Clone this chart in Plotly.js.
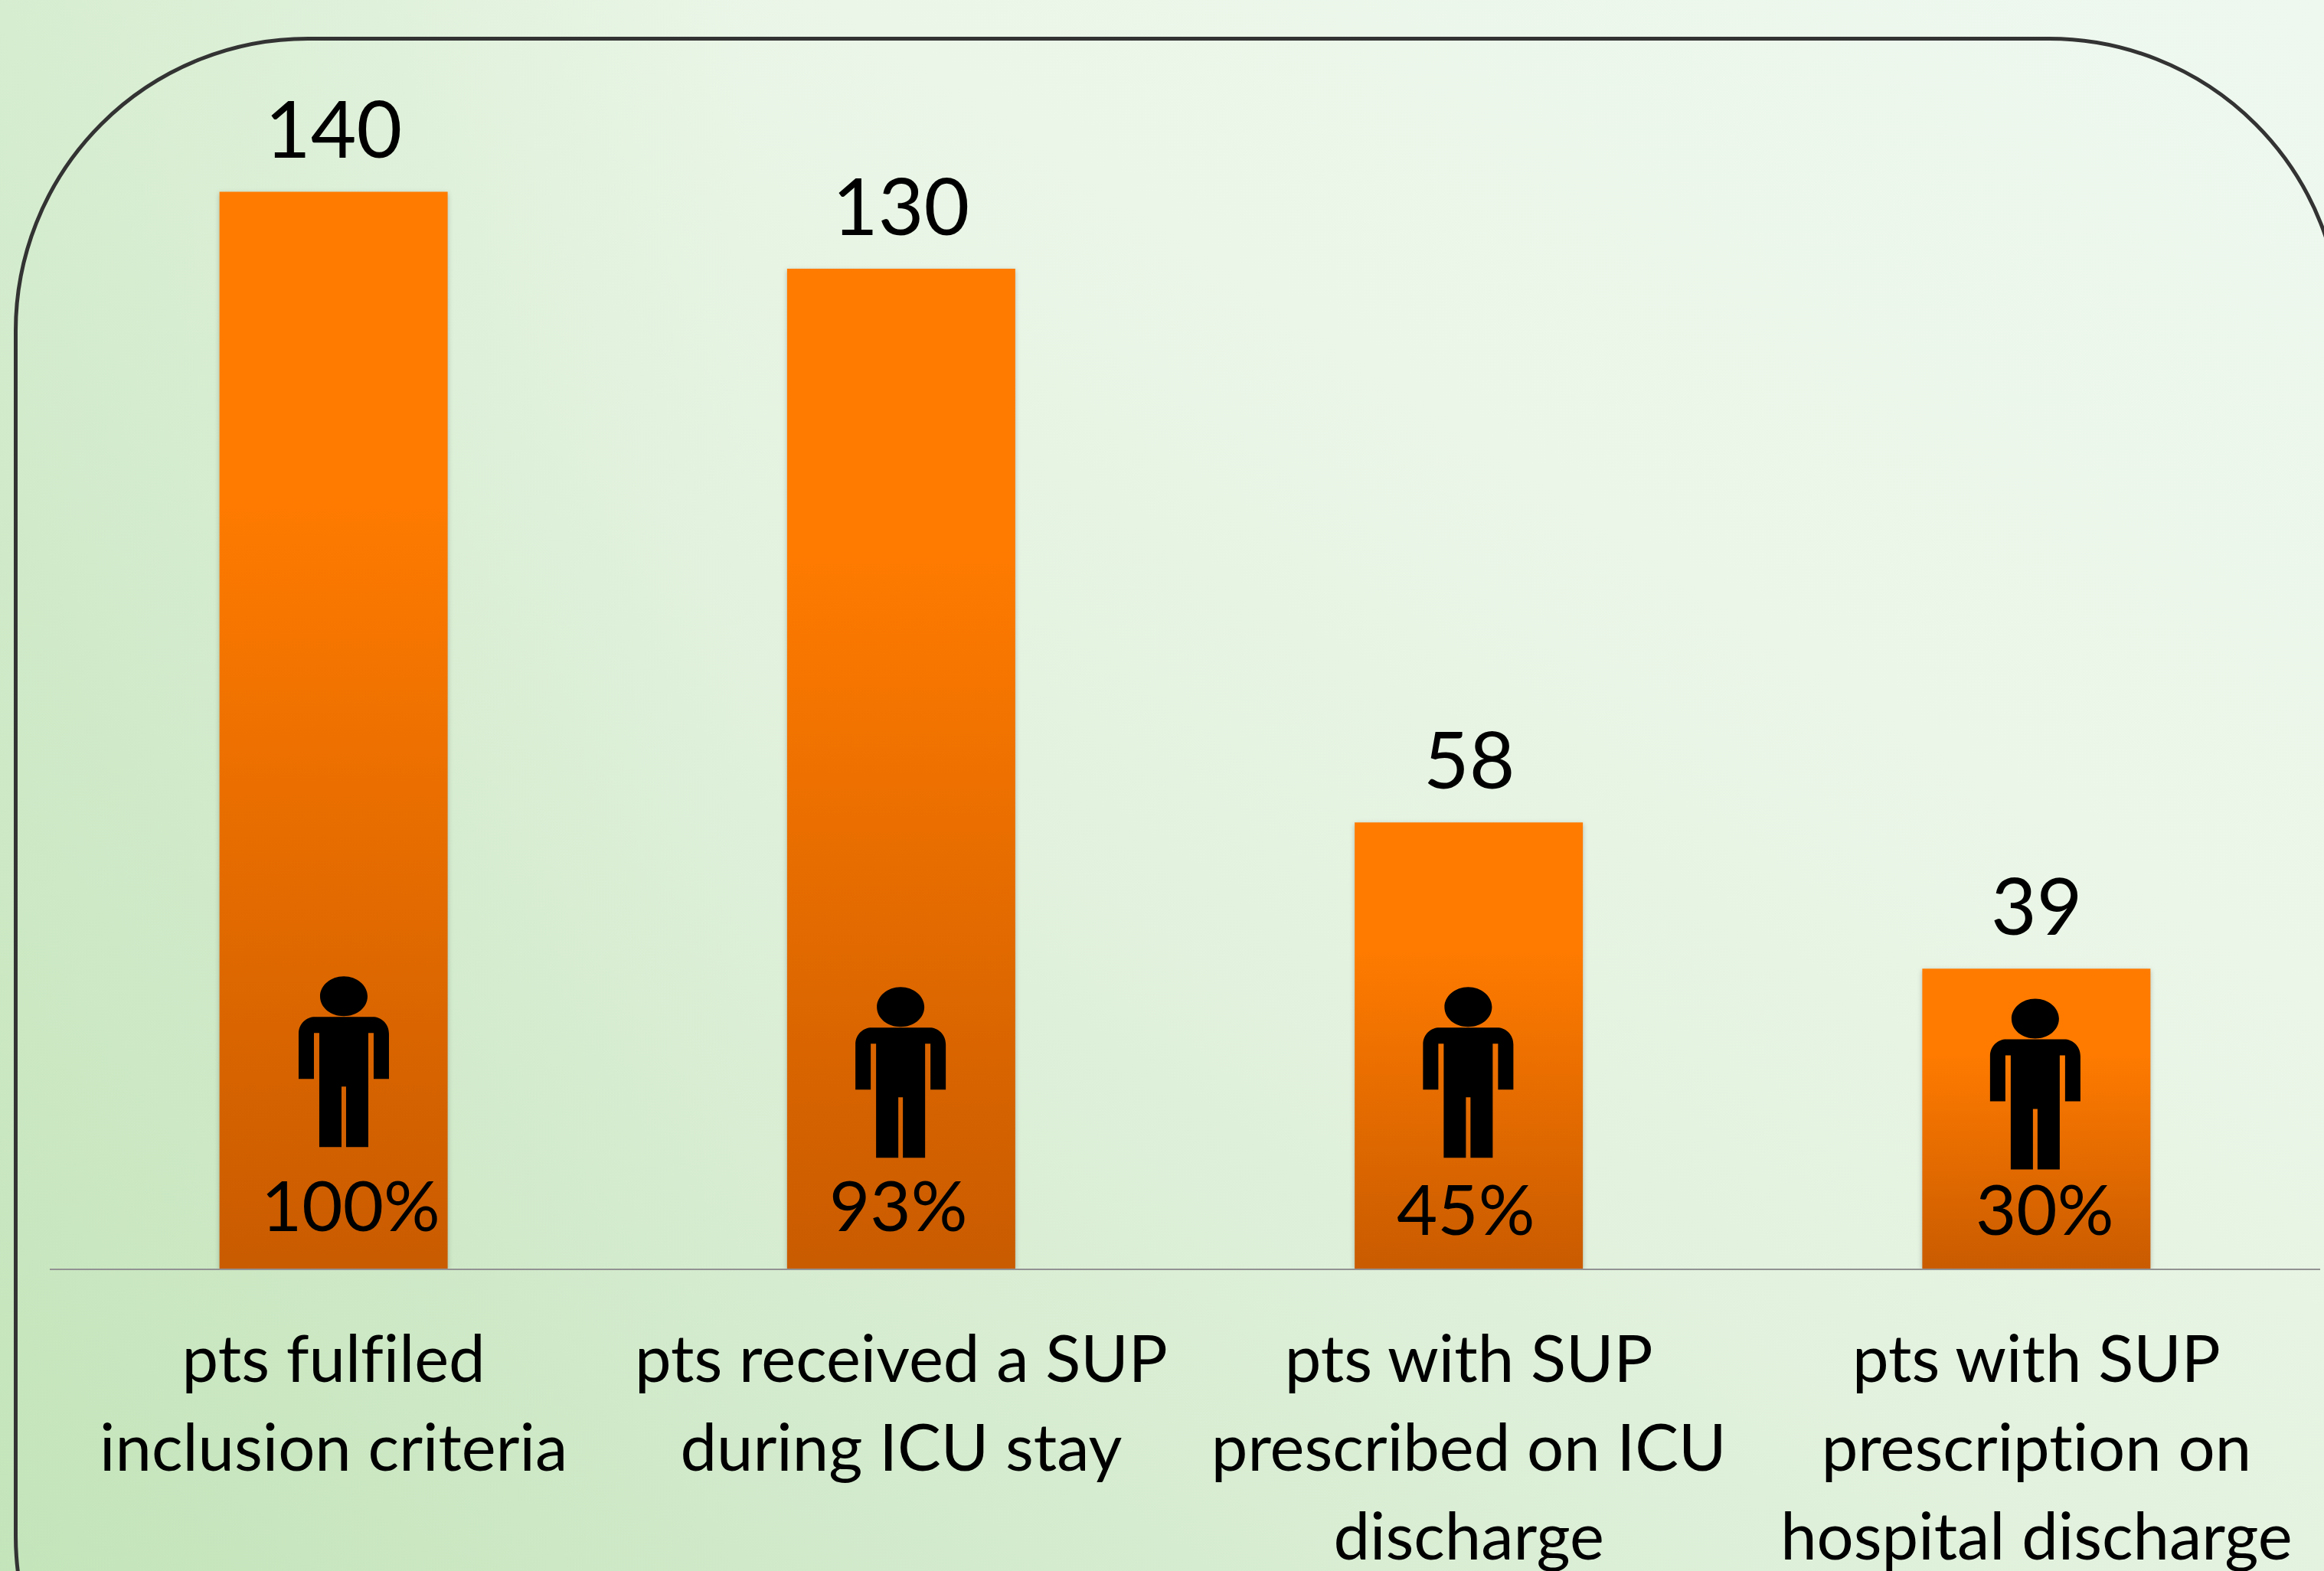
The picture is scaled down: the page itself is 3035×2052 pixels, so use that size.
<!DOCTYPE html>
<html>
<head>
<meta charset="utf-8">
<script src="https://cdn.plot.ly/plotly-3.0.1.min.js"></script>
<style>
html,body{margin:0;padding:0;width:3035px;height:2052px;overflow:hidden;}
body{position:relative;background:
  linear-gradient(to right,rgba(192,228,182,0.38) 0%,rgba(192,228,182,0) 32%),
  linear-gradient(to top right,#c6e5bd 0%,#d6ecd0 26%,#e3f2df 48%,#ebf6e8 68%,#eef8ef 100%);}
#frame{position:absolute;left:18px;top:48px;width:3042px;height:2342px;border:5px solid #333;border-radius:384px;box-sizing:border-box;}
#chart{position:absolute;left:0;top:0;width:3035px;height:2052px;}
.main-svg text{font-variant-ligatures:none;font-feature-settings:"liga" 0;}
</style>
</head>
<body>
<div id="frame"></div>
<div id="chart"></div>
<script>
const categories = [
  "pts fulfiled<br>inclusion criteria",
  "pts received a SUP<br>during ICU stay",
  "pts with SUP<br>prescribed on ICU<br>discharge",
  "pts with SUP<br>prescription on<br>hospital discharge"
];
const patients = [140, 130, 58, 39];
const percentLabels = ["100%", "93%", "45%", "30%"];

// Placement of the overlays, in axis units
const percentX = [0.03, -0.005, -0.005, 0.015];
const percentY = [8.4, 8.4, 7.9, 7.9];
const personX = [0.018, -0.001, -0.001, -0.002];
const personY = [15.8, 14.4, 14.4, 12.9];

const FONT = "Lato, 'Open Sans', sans-serif";
const personPath =
  "M-32 0L-3 0L-3 79L3 79L3 0L32 0L32 149L39 149L39 89L59 89L59 148" +
  "C59 162 48 170 38 170L-38 170C-48 170 -59 162 -59 148L-59 89L-39 89L-39 149L-32 149Z" +
  "M-31 197C-31 211 -17 223 0 223C17 223 31 211 31 197C31 182 17 171 0 171C-17 171 -31 182 -31 197Z";

const valueLabels = patients.map((v, i) => ({
  x: i, y: v, xref: "x", yref: "y", text: String(v), showarrow: false,
  yanchor: "bottom", yshift: 20, font: {family: FONT, size: 103, color: "#000"}
}));
const pctLabels = percentLabels.map((t, i) => ({
  x: i + percentX[i], y: percentY[i], xref: "x", yref: "y", text: t, showarrow: false,
  yanchor: "middle", font: {family: FONT, size: 92, color: "#000"}
}));
const people = personX.map((dx, i) => ({
  type: "path", xref: "x", yref: "y", xsizemode: "pixel", ysizemode: "pixel",
  xanchor: i + dx, yanchor: personY[i], path: personPath,
  fillcolor: "#000", line: {width: 0}, layer: "above"
}));

const trace = {
  type: "bar", x: categories, y: patients, width: 0.402,
  marker: {color: "#e06800", line: {width: 0}}, hoverinfo: "skip", cliponaxis: false
};

const layout = {
  width: 3035, height: 2052, autosize: false, showlegend: false,
  paper_bgcolor: "rgba(0,0,0,0)", plot_bgcolor: "rgba(0,0,0,0)",
  margin: {l: 65, r: 5, t: 149.5, b: 395, pad: 0},
  font: {family: FONT, color: "#000"},
  xaxis: {
    type: "category", range: [-0.5, 3.5], tickangle: 0, showgrid: false, zeroline: false,
    showline: true, linecolor: "#929292", linewidth: 2,
    ticks: "outside", ticklen: 44, tickcolor: "rgba(0,0,0,0)",
    tickfont: {family: FONT, size: 85, color: "#000"}, automargin: false
  },
  yaxis: {range: [0, 150], visible: false, fixedrange: true},
  annotations: valueLabels.concat(pctLabels),
  shapes: people
};

Plotly.newPlot("chart", [trace], layout, {displayModeBar: false, staticPlot: true}).then(gd => {
  const svg = gd.querySelector(".main-svg");
  const ns = "http://www.w3.org/2000/svg";
  let defs = svg.querySelector("defs");
  const g = document.createElementNS(ns, "linearGradient");
  g.setAttribute("id", "barFade");
  g.setAttribute("x1", "0"); g.setAttribute("y1", "0");
  g.setAttribute("x2", "0"); g.setAttribute("y2", "1");
  [["0", "#ff7b00"], ["0.28", "#ff7b00"], ["1", "#c95b00"]].forEach(([o, c]) => {
    const s = document.createElementNS(ns, "stop");
    s.setAttribute("offset", o); s.setAttribute("stop-color", c); g.appendChild(s);
  });
  defs.appendChild(g);
  gd.querySelectorAll(".bars .point path").forEach(p => {
    p.style.fill = "url(#barFade)";
    p.style.filter = "drop-shadow(0 2px 3px rgba(0,0,0,0.22))";
  });
  // Reference line spacing is a little wider than Plotly's default 1.3em
  gd.querySelectorAll(".xtick text tspan.line").forEach(t => {
    const dy = parseFloat(t.getAttribute("dy"));
    if (dy > 0) t.setAttribute("dy", (dy / 1.3 * 1.365) + "em");
  });
});
</script>
</body>
</html>
